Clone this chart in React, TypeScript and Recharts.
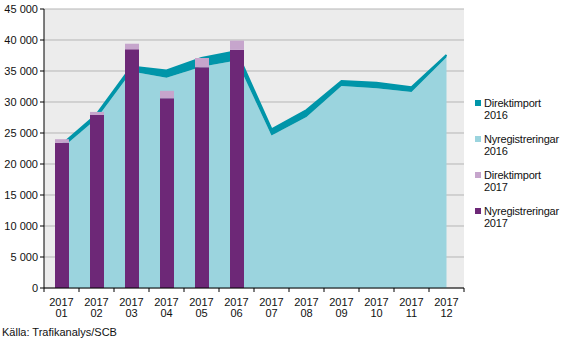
import React from 'react';
import {
  ComposedChart,
  Area,
  Bar,
  XAxis,
  YAxis,
  CartesianGrid,
  Legend,
} from 'recharts';

const months = ['01', '02', '03', '04', '05', '06', '07', '08', '09', '10', '11', '12'];
const nyreg2016 = [22500, 27300, 34900, 33900, 35700, 36700, 24600, 27600, 32600, 32200, 31600, 37200];
const direkt2016 = [600, 700, 800, 1200, 1400, 1500, 1000, 1100, 800, 900, 800, 400];
const nyreg2017 = [23400, 27900, 38500, 30600, 35600, 38400, null, null, null, null, null, null];
const direkt2017 = [600, 500, 900, 1200, 1500, 1500, null, null, null, null, null, null];
const yTicks = [0, 5000, 10000, 15000, 20000, 25000, 30000, 35000, 40000, 45000];

const COLORS = {
  direkt2016: '#0095a9',
  nyreg2016: '#9bd4de',
  direkt2017: '#c6a5cc',
  nyreg2017: '#6d2877',
};

const data = months.map((m, i) => ({
  month: m,
  nyreg2016: nyreg2016[i],
  direkt2016: direkt2016[i],
  nyreg2017: nyreg2017[i],
  direkt2017: direkt2017[i],
}));

const W = 568;
const H = 320;
const LEFT = 44;
const RIGHT = 104;
const BAND = (W - LEFT - RIGHT) / months.length;
const FONT = '"Liberation Sans", Arial, sans-serif';

// thousands separated by a non-breaking space so the label doesn't wrap
const fmt = (v: number) => (v === 0 ? '0' : String(v).replace(/\B(?=(\d{3})+(?!\d))/g, '\u00a0'));

const YTick = ({ x, y, payload }: any) => (
  <text x={x} y={y} dy={4} textAnchor="end" fontSize={11} fill="#111" fontFamily={FONT}>
    {fmt(payload.value)}
  </text>
);

const MonthTick = ({ x, y, payload, index }: any) => {
  const axisY = y - 6;
  return (
    <g>
      <line x1={x - BAND / 2} x2={x - BAND / 2} y1={axisY} y2={axisY + 4} stroke="#000" />
      {index === months.length - 1 && (
        <line x1={x + BAND / 2} x2={x + BAND / 2} y1={axisY} y2={axisY + 4} stroke="#000" />
      )}
      <text x={x} y={y} textAnchor="middle" fontSize={11} fill="#111" fontFamily={FONT}>
        <tspan x={x} dy={12}>2017</tspan>
        <tspan x={x} dy={11}>{payload.value}</tspan>
      </text>
    </g>
  );
};

const legendItems = [
  { key: 'direkt2016', l1: 'Direktimport', l2: '2016' },
  { key: 'nyreg2016', l1: 'Nyregistreringar', l2: '2016' },
  { key: 'direkt2017', l1: 'Direktimport', l2: '2017' },
  { key: 'nyreg2017', l1: 'Nyregistreringar', l2: '2017' },
];

const CustomLegend = () => (
  <div style={{ fontFamily: FONT, fontSize: 11, color: '#111', paddingLeft: 11 }}>
    {legendItems.map((it) => (
      <div key={it.key} style={{ display: 'flex', alignItems: 'flex-start', height: 36 }}>
        <div
          style={{
            width: 6,
            height: 6,
            marginTop: 3,
            marginRight: 3,
            background: (COLORS as any)[it.key],
          }}
        />
        <div style={{ lineHeight: '12px', letterSpacing: -0.2 }}>
          {it.l1}
          <br />
          {it.l2}
        </div>
      </div>
    ))}
  </div>
);

export default function App() {
  return (
    <div style={{ position: 'absolute', left: 0, top: 0, width: W, height: 341, background: '#fff' }}>
      <ComposedChart
        width={W}
        height={H}
        data={data}
        margin={{ top: 9, right: 9, bottom: 0, left: 0 }}
        barSize={14}
      >
        <CartesianGrid vertical={false} stroke="#b5b5b5" fill="#ececec" />
        <XAxis
          dataKey="month"
          axisLine={{ stroke: '#000' }}
          tickLine={false}
          tickSize={4}
          tickMargin={2}
          interval={0}
          height={32}
          tick={<MonthTick />}
        />
        <XAxis xAxisId="top" dataKey="month" orientation="top" axisLine={{ stroke: '#000' }} tick={false} tickLine={false} height={0} />
        <YAxis
          domain={[0, 45000]}
          ticks={yTicks}
          interval={0}
          width={LEFT}
          axisLine={{ stroke: '#000' }}
          tickLine={{ stroke: '#000' }}
          tickSize={4}
          tickMargin={2}
          tick={<YTick />}
        />
        <YAxis yAxisId="right" orientation="right" domain={[0, 45000]} axisLine={{ stroke: '#000' }} tick={false} tickLine={false} width={0} />
        <Legend
          layout="vertical"
          align="right"
          verticalAlign="middle"
          width={95}
          content={<CustomLegend />}
          wrapperStyle={{ top: 97 }}
        />
        <Area
          type="linear"
          dataKey="nyreg2016"
          name="Nyregistreringar 2016"
          stackId="a"
          stroke="none"
          fill={COLORS.nyreg2016}
          fillOpacity={1}
          isAnimationActive={false}
        />
        <Area
          type="linear"
          dataKey="direkt2016"
          name="Direktimport 2016"
          stackId="a"
          stroke={COLORS.direkt2016}
          strokeWidth={2}
          fill={COLORS.direkt2016}
          fillOpacity={1}
          isAnimationActive={false}
        />
        <Bar dataKey="nyreg2017" name="Nyregistreringar 2017" stackId="b" fill={COLORS.nyreg2017} isAnimationActive={false} />
        <Bar dataKey="direkt2017" name="Direktimport 2017" stackId="b" fill={COLORS.direkt2017} isAnimationActive={false} />
      </ComposedChart>
      <div
        style={{
          position: 'absolute',
          left: 2,
          top: 326,
          fontFamily: FONT,
          fontSize: 11,
          color: '#111',
        }}
      >
        Källa: Trafikanalys/SCB
      </div>
    </div>
  );
}
